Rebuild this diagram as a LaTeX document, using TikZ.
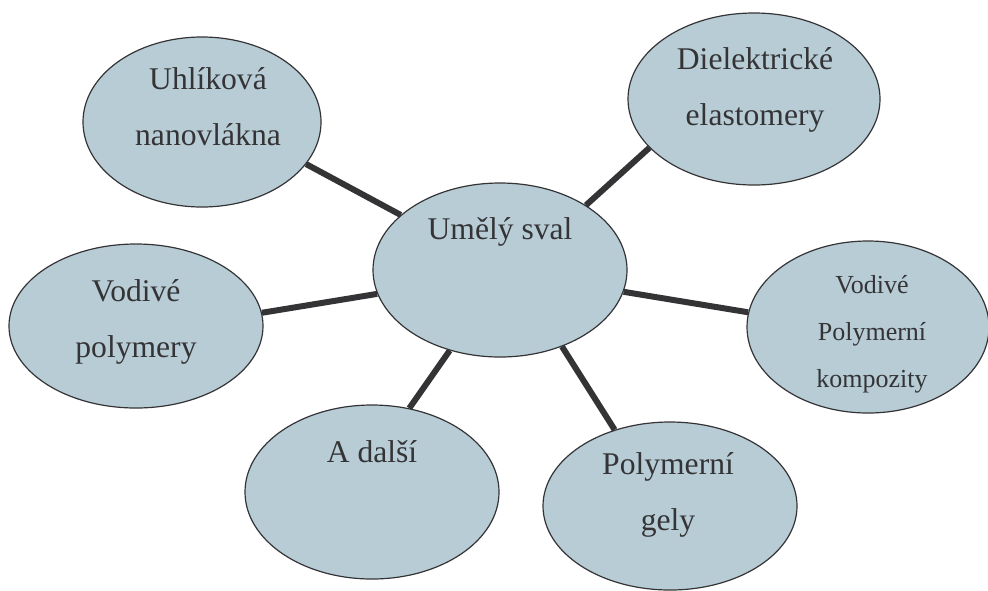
\documentclass[tikz,border=0pt]{standalone}
\usepackage{fontspec}
\setmainfont{Liberation Serif}
\usepackage{tikz}
\usetikzlibrary{shapes.geometric, positioning}
\definecolor{bubble}{RGB}{184,204,214}
\definecolor{ink}{RGB}{52,52,54}
\tikzset{
  topic/.style={ellipse, draw=ink, line width=0.6pt, fill=bubble, inner sep=0pt},
  caption/.style={text=ink, font=\fontsize{15.8}{28}\selectfont, align=center, anchor=base, inner sep=0pt},
  smallcaption/.style={caption, font=\fontsize{13}{23.5}\selectfont},
  spoke/.style={draw=ink, line width=3pt}
}
\begin{document}
\begin{tikzpicture}[x=0.5pt,y=-0.5pt]
\useasboundingbox (0,0) rectangle (988,590);
% bubbles
\node[topic, minimum width=127pt, minimum height=87pt] (sval) at (500,270) {};
\node[topic, minimum width=119pt, minimum height=85pt] (uhl) at (202,122) {};
\node[topic, minimum width=126pt, minimum height=86pt] (diel) at (754,99) {};
\node[topic, minimum width=127pt, minimum height=82pt] (vodpol) at (136,326) {};
\node[topic, minimum width=121pt, minimum height=86pt] (komp) at (868,327) {};
\node[topic, minimum width=127pt, minimum height=87pt] (dalsi) at (372,492) {};
\node[topic, minimum width=127pt, minimum height=84pt] (gely) at (670,506) {};
% texts (anchored at the last line)
\node[caption] (sval-t) at (500,239) {Umělý sval};
\node[caption] (uhl-t) at (208,145) {Uhlíková\\nanovlákna};
\node[caption] (diel-t) at (755,125) {Dielektrické\\elastomery};
\node[caption] (vodpol-t) at (136,357) {Vodivé\\polymery};
\node[smallcaption] (komp-t) at (872,387) {Vodivé\\Polymerní\\kompozity};
\node[caption] (dalsi-t) at (372,462) {A další};
\node[caption] (gely-t) at (668,530) {Polymerní\\gely};
% spokes
\path[spoke] (uhl.-22) -- (sval.151);
\path[spoke] (diel.205) -- (sval.37);
\path[spoke] (vodpol.6) -- (sval.191);
\path[spoke] (komp.173) -- (sval.-10);
\path[spoke] (dalsi.66) -- (sval.238);
\path[spoke] (gely.126) -- (sval.-51);
\end{tikzpicture}
\end{document}
